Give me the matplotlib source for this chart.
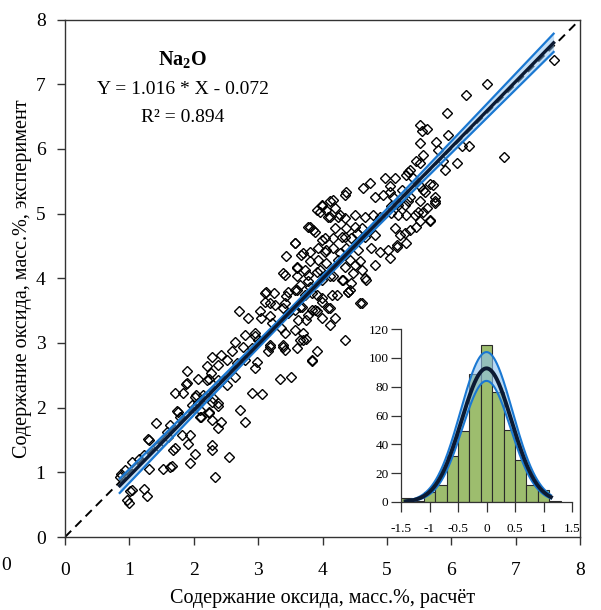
import numpy as np
import matplotlib
matplotlib.use("Agg")
import matplotlib.pyplot as plt

plt.rcParams['font.family'] = ['Liberation Serif', 'DejaVu Serif']
plt.rcParams['mathtext.fontset'] = 'custom'
plt.rcParams['mathtext.rm'] = 'Liberation Serif'
plt.rcParams['mathtext.bf'] = 'Liberation Serif:bold'

# ---------------- data ----------------
calc_x = [
    1.89, 2.27, 2.20, 1.88, 1.71, 1.84, 2.02, 2.07, 2.28, 2.38, 2.23, 2.12, 2.43, 2.38, 1.75, 1.41, 1.58, 1.81, 1.94, 1.30,
    1.68, 1.91, 2.28, 2.28, 2.02, 1.94, 2.54, 1.63, 1.53, 1.30, 1.04, 1.22, 0.87, 0.93, 0.85, 2.33, 1.04, 1.23, 1.27, 0.96,
    0.99, 1.15, 1.45, 1.60, 1.78, 2.00, 2.15,
    3.13, 3.25, 3.11, 3.26, 3.42, 3.57, 3.65, 3.73, 3.80, 2.70, 2.84, 3.03, 3.05, 3.18, 3.21, 3.47, 3.57, 3.68, 3.62, 3.75,
    3.83, 3.36, 3.42, 3.57, 3.70, 3.70, 2.80, 2.95, 3.00, 2.64, 2.77, 2.90, 3.18, 3.16, 3.39, 3.42, 3.60, 3.83, 2.59, 2.43,
    2.28, 2.20, 2.38, 2.51, 2.67, 2.80, 2.95, 2.98, 2.07, 2.23, 2.38, 2.51, 2.64, 2.04, 2.17, 2.30, 1.97, 2.10, 2.23, 2.38,
    2.10, 2.28, 2.80, 2.90, 3.06, 3.34, 3.51,
    3.91, 4.06, 4.17, 4.19, 4.35, 4.81, 3.99, 4.09, 4.24, 4.35, 4.50, 4.66, 4.79, 4.89, 4.19, 4.37, 4.50, 4.61, 3.78, 3.86,
    4.04, 4.17, 4.30, 4.45, 4.66, 4.81, 3.57, 3.80, 3.93, 4.04, 4.17, 4.37, 4.55, 4.76, 4.89, 3.44, 3.67, 3.80, 3.93, 4.06,
    4.24, 4.35, 4.50, 4.61, 4.81, 3.60, 3.73, 3.91, 3.42, 3.60, 3.78, 3.99, 4.17, 4.30, 4.45, 4.66, 4.40, 4.58, 3.47, 3.91,
    3.99, 4.14, 3.88, 4.09, 3.99, 4.19, 4.11, 3.78,
    3.99, 4.11, 3.96, 4.11, 4.27, 3.80, 3.88, 3.57, 3.99, 4.35, 4.53, 3.70, 4.06, 4.27, 4.43, 4.58, 3.39, 3.60, 3.78, 3.96,
    4.11, 4.32, 4.48, 3.11, 3.44, 3.60, 3.83, 3.99, 4.22, 4.43, 3.18, 3.39, 3.65, 3.91, 4.11, 4.68, 4.61, 4.40,
    1.89, 1.74, 1.63, 1.29, 1.71, 1.66, 1.01, 2.72, 3.91, 3.83, 4.35, 2.95, 3.18, 3.39, 3.65, 3.75,
    5.51, 5.62, 5.54, 5.51, 5.95, 5.77, 5.80, 5.56, 5.46, 5.51, 5.87, 5.90, 5.36, 5.30, 5.41, 5.12, 4.97, 4.74, 4.63, 4.37,
    5.05, 5.05, 5.23, 5.51, 5.67, 5.59, 5.75, 5.36, 5.51, 5.62, 5.75, 5.28, 5.30, 5.49, 5.51, 5.67, 5.46, 5.15, 5.07, 5.07,
    5.18, 5.12, 5.20, 5.30, 5.15, 5.02, 5.36,
    7.59, 6.55, 6.23, 5.94, 6.28, 6.16, 6.82, 6.09,
    5.33, 4.94, 5.10, 5.18, 5.33, 5.56, 5.72, 5.75, 5.56, 5.67, 5.43, 5.28, 5.15, 5.05,
]
exp_y = [
    2.56, 2.54, 2.43, 2.37, 2.23, 2.23, 2.17, 2.07, 2.09, 2.07, 1.94, 1.86, 1.78, 1.68, 1.94, 1.76, 1.63, 1.58, 1.58, 1.50,
    1.35, 1.44, 1.42, 1.35, 1.29, 1.14, 1.23, 1.08, 1.05, 1.05, 1.16, 1.27, 0.98, 1.04, 0.93, 0.92, 0.73, 0.74, 0.63, 0.57,
    0.53, 1.20, 1.40, 1.55, 1.85, 2.00, 2.20,
    3.79, 3.77, 3.64, 3.59, 3.61, 3.82, 3.90, 3.74, 3.87, 3.49, 3.38, 3.49, 3.38, 3.41, 3.31, 3.46, 3.51, 3.56, 3.36, 3.36,
    3.51, 3.23, 3.15, 3.20, 3.15, 3.05, 3.12, 3.15, 3.05, 3.02, 2.94, 2.92, 2.97, 2.87, 2.97, 2.89, 2.92, 2.74, 2.87, 2.82,
    2.79, 2.65, 2.66, 2.74, 2.69, 2.74, 2.61, 2.71, 2.45, 2.45, 2.43, 2.35, 2.48, 2.20, 2.17, 2.15, 2.04, 1.96, 1.91, 2.02,
    1.86, 1.81, 1.78, 2.22, 2.21, 2.44, 2.47,
    5.06, 5.06, 5.21, 5.08, 5.28, 5.26, 5.11, 4.95, 4.95, 4.93, 4.98, 4.95, 4.98, 4.95, 4.77, 4.77, 4.80, 4.77, 4.80, 4.75,
    4.62, 4.62, 4.64, 4.62, 4.64, 4.67, 4.54, 4.41, 4.46, 4.41, 4.46, 4.46, 4.44, 4.46, 4.41, 4.34, 4.36, 4.26, 4.28, 4.23,
    4.28, 4.18, 4.21, 4.13, 4.21, 4.18, 4.13, 4.10, 4.05, 4.03, 3.95, 3.98, 4.03, 3.98, 3.92, 4.00, 3.79, 3.61, 3.79, 3.74,
    3.64, 3.74, 3.51, 3.54, 3.38, 3.38, 3.28, 3.43,
    5.14, 5.19, 5.03, 4.95, 4.98, 4.80, 4.72, 4.55, 4.59, 4.64, 4.70, 4.39, 4.44, 4.39, 4.28, 4.26, 4.08, 4.16, 4.05, 4.13,
    4.03, 3.98, 4.08, 3.77, 3.72, 3.82, 3.77, 3.69, 3.74, 3.82, 3.61, 3.54, 3.56, 3.49, 3.54, 3.98, 3.62, 3.79,
    2.38, 1.95, 1.73, 1.52, 1.37, 1.09, 0.71, 1.97, 2.87, 2.72, 3.04, 3.10, 2.94, 2.94, 3.05, 3.06,
    6.37, 6.30, 6.27, 6.09, 6.22, 6.11, 5.99, 5.91, 5.81, 5.78, 5.81, 5.68, 5.68, 5.60, 5.55, 5.55, 5.55, 5.47, 5.39, 5.34,
    5.42, 5.34, 5.37, 5.42, 5.45, 5.34, 5.26, 5.26, 5.19, 5.08, 5.16, 5.14, 4.98, 5.03, 4.88, 4.90, 4.80, 5.16, 5.11, 5.01,
    4.98, 4.77, 4.67, 4.54, 4.49, 4.44, 4.74,
    7.37, 7.00, 6.84, 6.56, 6.05, 6.04, 5.88, 5.78,
    5.65, 5.29, 5.26, 5.14, 5.19, 5.37, 5.44, 5.19, 5.03, 4.88, 4.98, 4.70, 4.52, 4.31,
]

fit_slope = 1.016
fit_intercept = -0.072
r_squared = 0.894

# residual histogram (bin centers, counts)
hist_centers = [-1.4, -1.2, -1.0, -0.8, -0.6, -0.4, -0.2, 0.0, 0.2, 0.4, 0.6, 0.8, 1.0, 1.2]
hist_counts = [3, 1, 7, 12, 32, 49, 89, 109, 76, 50, 29, 12, 8, 1]
hist_width = 0.2
# fitted normal curves: (peak, mean, sigma)
curve_fit = (92.7, 0.0, 0.44)
curve_upper = (104.0, 0.0, 0.455)
curve_lower = (84.0, 0.0, 0.425)
curve_range = (-1.42, 1.13)

main_ticks = [0, 1, 2, 3, 4, 5, 6, 7, 8]
inset_xticks = [-1.5, -1.0, -0.5, 0.0, 0.5, 1.0, 1.5]
inset_xticklabels = ['-1.5', '-1', '-0.5', '0', '0.5', '1', '1.5']
inset_yticks = [0, 20, 40, 60, 80, 100, 120]

xlabel = 'Содержание оксида, масс.%, расчёт'
ylabel = 'Содержание оксида, масс.%, эксперимент'

# ---------------- figure ----------------
fig = plt.figure(figsize=(6.01, 6.10), dpi=100)
ax = fig.add_axes([65 / 601, 1 - 537 / 610, 515 / 601, 517.5 / 610])

x = np.array(calc_x)
y = np.array(exp_y)

# 1:1 line
ax.plot([0, 8], [0, 8], color='black', lw=1.4, dashes=(4.5, 3), zorder=1)

ax.plot(x, y, linestyle='none', marker='D', ms=4.6, mfc='none', mec='black', mew=1.0, zorder=2)

# regression with confidence band (sample size = total count in residual histogram)
xg = np.linspace(x.min(), x.max(), 200)
yg = fit_slope * xg + fit_intercept
n = sum(hist_counts)
res = y - (fit_slope * x + fit_intercept)
s = np.sqrt(np.sum(res ** 2) / (len(x) - 2))
xm = x.mean()
sxx = np.sum((x - xm) ** 2) * n / len(x)
half = 1.96 * s * np.sqrt(1.0 / n + (xg - xm) ** 2 / sxx)
ax.fill_between(xg, yg - half, yg + half, color='#8fc3ef', alpha=0.5, lw=0, zorder=3)
ax.plot(xg, yg + half, color='#1a78d2', lw=1.6, zorder=4)
ax.plot(xg, yg - half, color='#1a78d2', lw=1.6, zorder=4)
ax.plot(xg, yg, color='#0b1a33', lw=2.4, zorder=5)

ax.set_xlim(0, 8)
ax.set_ylim(0, 8)
ax.set_xticks(main_ticks)
ax.set_yticks(main_ticks)
ax.tick_params(direction='out', length=6, width=1, labelsize=14, color='#333333')
ax.tick_params(axis='x', pad=12)
ax.tick_params(axis='y', pad=8)
for sp in ax.spines.values():
    sp.set_color('#333333')
    sp.set_linewidth(1.0)
ax.set_xlabel(xlabel, fontsize=14.5, labelpad=7)
ax.set_ylabel(ylabel, fontsize=14.5, labelpad=3)

ax.text(1.83, 7.38, r'$\mathbf{Na_2O}$', ha='center', va='center', fontsize=14.5)
ax.text(1.83, 6.92, 'Y = %.3f * X - %.3f' % (fit_slope, -fit_intercept), ha='center', va='center', fontsize=14)
ax.text(1.83, 6.49, 'R² = %.3f' % r_squared, ha='center', va='center', fontsize=14)

fig.text(0.002, 1 - 565 / 610, '0', ha='left', va='center', fontsize=14)

# ---------------- inset histogram ----------------
ins = fig.add_axes([401 / 601, 1 - 502 / 610, 171 / 601, 173 / 610])
ins.patch.set_alpha(0)
ins.bar(hist_centers, hist_counts, width=hist_width, color='#9dbd6e', edgecolor='#2a2a2a', lw=0.8, zorder=1)

xc = np.linspace(curve_range[0], curve_range[1], 300)


def gauss(p):
    return p[0] * np.exp(-0.5 * ((xc - p[1]) / p[2]) ** 2)


ins.fill_between(xc, gauss(curve_lower), gauss(curve_upper), color='#8fc3ef', alpha=0.6, lw=0, zorder=2)
ins.plot(xc, gauss(curve_upper), color='#1a78d2', lw=1.5, zorder=3)
ins.plot(xc, gauss(curve_lower), color='#1a78d2', lw=1.5, zorder=3)
ins.plot(xc, gauss(curve_fit), color='#0b1a33', lw=2.8, zorder=4)

ins.set_xlim(-1.5, 1.5)
ins.set_ylim(0, 120)
ins.set_xticks(inset_xticks)
ins.set_xticklabels(inset_xticklabels)
ins.set_yticks(inset_yticks)
ins.spines['top'].set_visible(False)
ins.spines['right'].set_visible(False)
for sp in ('left', 'bottom'):
    ins.spines[sp].set_color('#333333')
    ins.spines[sp].set_linewidth(0.9)
ins.tick_params(direction='out', length=7, width=0.9, labelsize=9.5, color='#333333', pad=2)
ins.tick_params(axis='x', pad=8)

fig.savefig('out.png', dpi=100)
